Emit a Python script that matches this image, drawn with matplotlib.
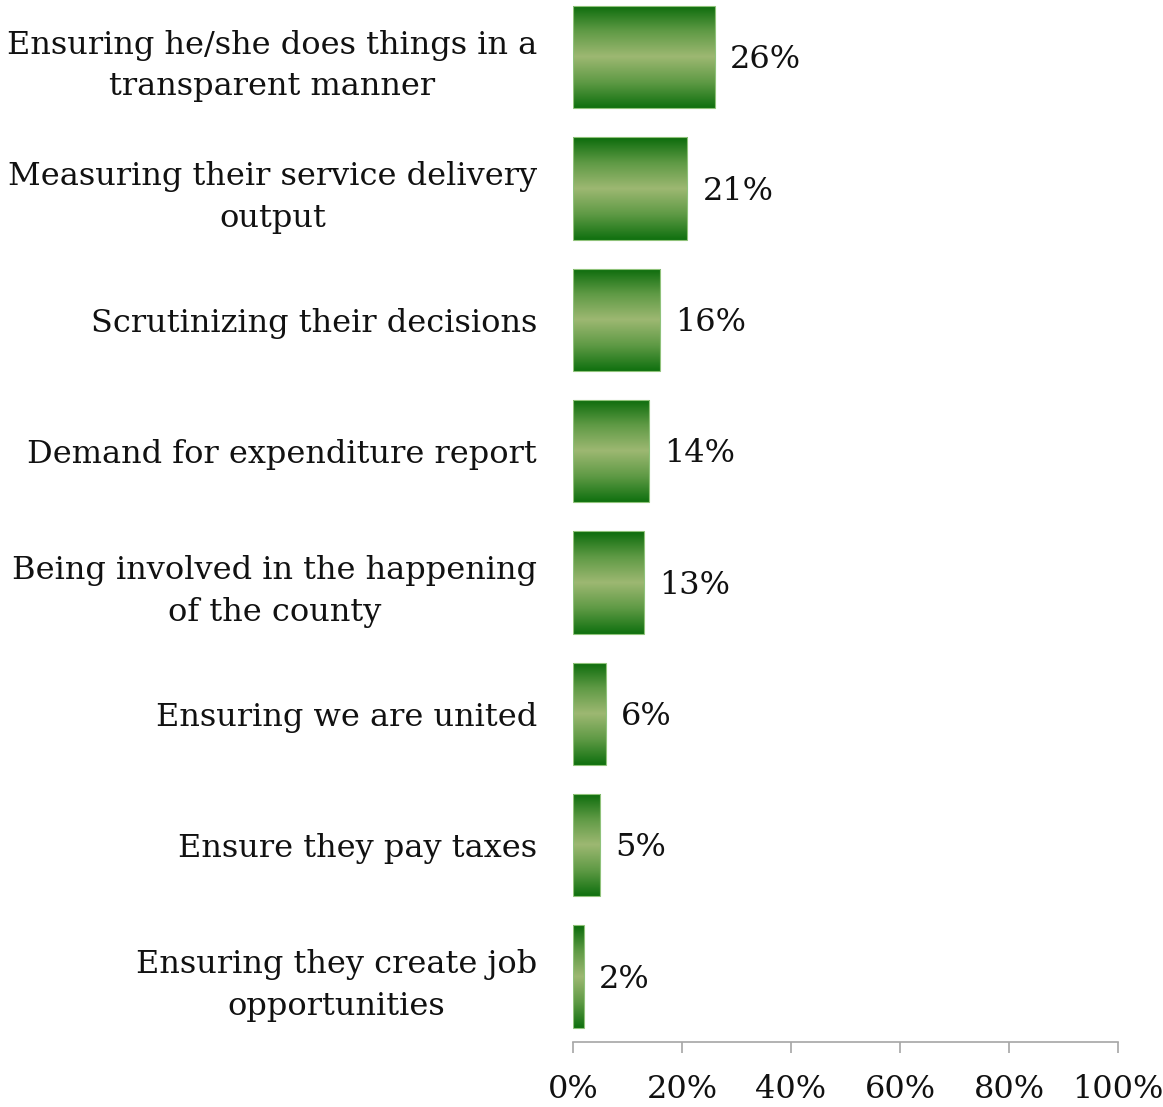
import numpy as np
import matplotlib.pyplot as plt
from matplotlib.colors import LinearSegmentedColormap

categories = [
    "Ensuring he/she does things in a\ntransparent manner",
    "Measuring their service delivery\noutput",
    "Scrutinizing their decisions",
    "Demand for expenditure report",
    "Being involved in the happening\nof the county",
    "Ensuring we are united",
    "Ensure they pay taxes",
    "Ensuring they create job\nopportunities",
]
values = [26, 21, 16, 14, 13, 6, 5, 2]
xticks = [0, 20, 40, 60, 80, 100]

plt.rcParams['font.family'] = ['DejaVu Serif']

fig = plt.figure(figsize=(11.63, 11.07), dpi=100)
ax = fig.add_axes([0.4927, 0.0587, 0.4686, 0.949])

# green gradient: dark at top/bottom edges, pale in the middle
cmap = LinearSegmentedColormap.from_list(
    "bar", ["#0b6b0b", "#5f9a45", "#9db872", "#5f9a45", "#0f700f"])
grad = np.linspace(0, 1, 256).reshape(-1, 1)
h = 0.78
fs = 23

for i, v in enumerate(values):
    im = ax.imshow(grad, cmap=cmap, aspect="auto", origin="upper",
                   extent=[0, v, i + h / 2, i - h / 2], zorder=2)
    rect = ax.barh(i, v, height=h, facecolor="none",
                   edgecolor="#8fc27a", linewidth=0.8, zorder=3)[0]
    im.set_clip_path(rect)
    ax.annotate(f"{v}%", (v, i), xytext=(11, -2), textcoords="offset points",
                ha="left", va="center", fontsize=fs, color="#111111")

ax.set_xlim(0, 100)
ax.set_ylim(len(values) - 0.5, -0.5)

ax.set_yticks(range(len(categories)))
ax.set_yticklabels(categories, fontsize=fs, color="#111111")
for lbl in ax.get_yticklabels():
    lbl.set_multialignment("center")
    lbl.set_linespacing(1.45)
ax.tick_params(axis="y", length=0, pad=26)

ax.set_xticks(xticks)
ax.set_xticklabels([f"{t}%" for t in xticks], fontsize=fs, color="#111111")
ax.tick_params(axis="x", length=8, width=1.2, color="#a6a6a6", pad=15)

for s in ["top", "right", "left"]:
    ax.spines[s].set_visible(False)
ax.spines["bottom"].set_color("#a6a6a6")
ax.spines["bottom"].set_linewidth(1.2)

fig.savefig("out.png", dpi=100)
